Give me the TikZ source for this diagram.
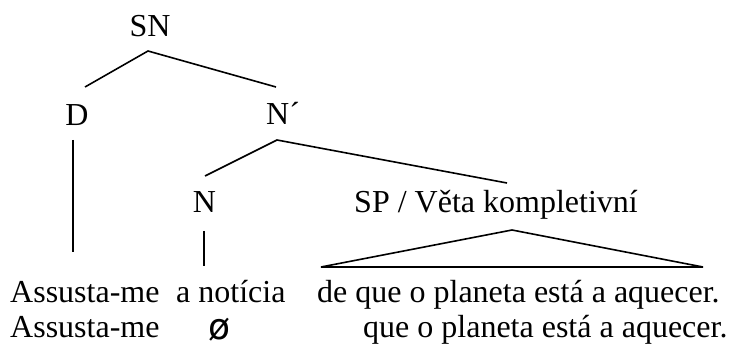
\documentclass[tikz,border=0pt]{standalone}
\usepackage{fontspec}
\setmainfont{Liberation Serif}
\newfontfamily\symfont{DejaVu Sans}
\begin{document}
\begin{tikzpicture}[x=1pt,y=1pt,
  lbl/.style={inner sep=0pt,font=\fontsize{32}{38}\selectfont},
  edge/.style={line width=1.6pt},
  tri/.style={line width=1.6pt,line join=miter}]
\useasboundingbox (0,0) rectangle (729,354);
% labels
\node[lbl,anchor=base] (SN) at (150,317) {SN};
\node[lbl,anchor=base] (D) at (77,228) {D};
\node[lbl,anchor=base west] (Nbar) at (266,229) {N´};
\node[lbl,anchor=base] (N) at (204.5,141) {N};
\node[lbl,anchor=base] (SP) at (496,141) {SP / Věta kompletivní};
% sentences
\node[lbl,anchor=base west] (w1) at (10,52) {Assusta-me};
\node[lbl,anchor=base west] (w2) at (176,52) {a notícia};
\node[lbl,anchor=base west] (w3) at (317,52) {de que o planeta está a aquecer.};
\node[lbl,anchor=base west] (v1) at (10,17) {Assusta-me};
\node[inner sep=0pt,anchor=base] (v2) at (219.5,15) {\symfont\fontsize{36}{40}\selectfont ø};
\node[lbl,anchor=base west] (v3) at (363,17) {que o planeta está a aquecer.};
% connector endpoints
\coordinate (SNb) at (148,303);
\coordinate (Dt) at (85,267);
\coordinate (Nbt) at (276,267);
\coordinate (Db) at (73,214);
\coordinate (De) at (73,102);
\coordinate (Nbb) at (277,214);
\coordinate (Nt) at (205,178);
\coordinate (SPt) at (507,171);
\coordinate (Nb) at (204,123);
\coordinate (Ne) at (204,88);
\coordinate (Ta) at (512,124);
\coordinate (Tl) at (321,87);
\coordinate (Tr) at (703,87);
% edges
\draw[edge] (Dt) -- (SNb) -- (Nbt);
\draw[edge] (Db) -- (De);
\draw[edge] (Nt) -- (Nbb) -- (SPt);
\draw[edge] (Nb) -- (Ne);
\draw[tri] (Tl) -- (Ta) -- (Tr) -- cycle;
\end{tikzpicture}
\end{document}
